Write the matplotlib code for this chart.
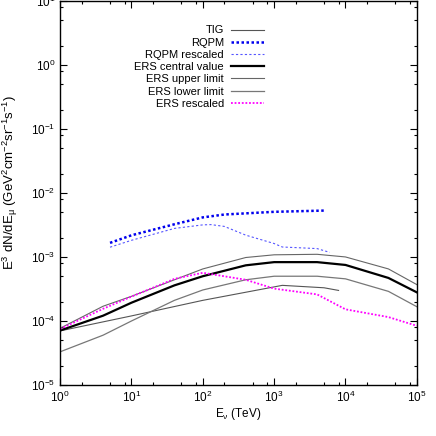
import matplotlib
matplotlib.use("Agg")
import matplotlib.pyplot as plt
from matplotlib.ticker import LogLocator, NullFormatter

plt.rcParams['font.family'] = ['Liberation Sans', 'DejaVu Sans']
plt.rcParams['mathtext.fontset'] = 'custom'
plt.rcParams['mathtext.rm'] = 'Liberation Sans'
plt.rcParams['mathtext.it'] = 'Liberation Sans'

# TIG
tig_E = [1, 10, 100, 1300, 5000, 8000]
tig_F = [7.0e-5, 1.2e-4, 2.1e-4, 3.6e-4, 3.3e-4, 3.0e-4]

# RQPM and rescaled
rqpm_E = [5, 10, 40, 100, 200, 1000, 5000]
rqpm_F = [1.66e-3, 2.18e-3, 3.24e-3, 4.15e-3, 4.6e-3, 5.07e-3, 5.3e-3]
rqpm_r_E = [5, 10, 40, 100, 130, 200, 400, 1000, 1300, 2000, 4000, 6000]
rqpm_r_F = [1.42e-3, 1.82e-3, 2.79e-3, 3.17e-3, 3.2e-3, 3.0e-3, 2.19e-3, 1.62e-3,
            1.43e-3, 1.4e-3, 1.35e-3, 1.18e-3]

# ERS
ers_E = [1, 4, 10, 40, 100, 400, 1000, 4000, 1e4, 4e4, 1e5]
ers_central = [7.1e-5, 1.21e-4, 1.93e-4, 3.6e-4, 5.0e-4, 7.4e-4, 8.3e-4, 8.3e-4, 7.5e-4, 4.7e-4, 2.8e-4]
ers_upper = [7.7e-5, 1.7e-4, 2.43e-4, 4.4e-4, 6.5e-4, 9.8e-4, 1.08e-3, 1.1e-3, 1.0e-3, 6.5e-4, 3.7e-4]
ers_lower = [3.3e-5, 6.0e-5, 1.0e-4, 2.1e-4, 3.05e-4, 4.4e-4, 5.0e-4, 5.0e-4, 4.55e-4, 2.9e-4, 1.67e-4]
ers_resc = [7.5e-5, 1.55e-4, 2.4e-4, 4.55e-4, 5.66e-4, 4.4e-4, 3.2e-4, 2.6e-4, 1.52e-4, 1.15e-4, 8.4e-5]

fig = plt.figure(figsize=(4.36, 4.36), dpi=100)
ax = fig.add_axes([0.138, 0.117, 0.818, 0.881])

ax.plot(tig_E, tig_F, color='#555555', lw=0.8, label='TIG')
ax.plot(rqpm_E, rqpm_F, color='#0000ee', lw=1.8, ls=(0, (1, 1)), label='RQPM')
ax.plot(rqpm_r_E, rqpm_r_F, color='#5555ff', lw=0.8, ls=(0, (2, 2)), label='RQPM rescaled')
ax.plot(ers_E, ers_central, color='black', lw=1.6, label='ERS central value')
ax.plot(ers_E, ers_upper, color='#666666', lw=0.8, label='ERS upper limit')
ax.plot(ers_E, ers_lower, color='#777777', lw=0.9, label='ERS lower limit')
ax.plot(ers_E, ers_resc, color='#ff00ff', lw=1.3, ls=(0, (1, 1)), label='ERS rescaled')

ax.set_xscale('log')
ax.set_yscale('log')
ax.set_xlim(1, 1e5)
ax.set_ylim(1e-5, 10)

for axis in (ax.xaxis, ax.yaxis):
    axis.set_major_locator(LogLocator(base=10, numticks=20))
    axis.set_minor_locator(LogLocator(base=10, subs=[2, 5, 8], numticks=20))
    axis.set_minor_formatter(NullFormatter())
ax.tick_params(which='both', direction='in', top=True, right=True, labelsize=8.5, width=0.8)
ax.tick_params(which='major', length=5)
ax.tick_params(which='minor', length=2.5)
for s in ax.spines.values():
    s.set_linewidth(1.0)

ax.set_xlabel(r'E$_\nu$ (TeV)', fontsize=8.5, labelpad=1)
ax.set_ylabel(r'E$^3$ dN/dE$_\mu$ (GeV$^2$cm$^{-2}$sr$^{-1}$s$^{-1}$)', fontsize=9.5)
ax.yaxis.set_label_coords(-0.112, 0.526)

leg = ax.legend(loc='upper left', bbox_to_anchor=(0.18, 0.962), frameon=False, fontsize=8,
                markerfirst=False, handlelength=3.0, labelspacing=0.2, handletextpad=0.6)
for t in leg.get_texts():
    t.set_ha('right')
leg._legend_box.align = 'right'

fig.savefig('out.png', dpi=100)
